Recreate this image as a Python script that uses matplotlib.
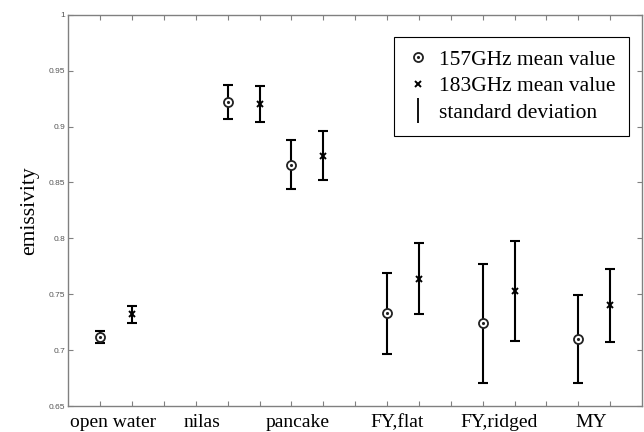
import matplotlib
matplotlib.use("Agg")
import matplotlib.pyplot as plt
from matplotlib.lines import Line2D

# categories and read-off values
categories = ["open water", "nilas", "pancake", "FY,flat", "FY,ridged", "MY"]
pos157 = [1, 5, 7, 10, 13, 16]
pos183 = [2, 6, 8, 11, 14, 17]
label_pos = [1.41, 4.2, 7.2, 10.3, 13.5, 16.4]

mean157 = [0.712, 0.922, 0.866, 0.733, 0.724, 0.710]
std157 = [0.0054, 0.015, 0.022, 0.036, 0.053, 0.039]
mean183 = [0.732, 0.920, 0.874, 0.764, 0.753, 0.740]
std183 = [0.0075, 0.016, 0.022, 0.032, 0.045, 0.033]

serif = ["Liberation Serif", "DejaVu Serif"]
sans = ["Liberation Sans", "DejaVu Sans"]
gray = "#808080"

fig = plt.figure(figsize=(6.44, 4.32), dpi=100)
ax = fig.add_axes([0.106, 0.060, 0.891, 0.906])

# error bars
ax.errorbar(pos157, mean157, yerr=std157, fmt="none", ecolor="black",
            elinewidth=1.5, capsize=3.6, capthick=1.5)
ax.errorbar(pos183, mean183, yerr=std183, fmt="none", ecolor="black",
            elinewidth=1.5, capsize=3.6, capthick=1.5)

# 157GHz: circle with dot
c1, = ax.plot(pos157, mean157, "o", mfc="white", mec="#222222", ms=6.5, mew=1.3, ls="none")
c2, = ax.plot(pos157, mean157, ".", color="#222222", ms=2.5, ls="none")
# 183GHz: cross
x1, = ax.plot(pos183, mean183, "x", color="black", ms=5, mew=1.4, ls="none")

ax.set_xlim(0, 18)
ax.set_ylim(0.65, 1.0)
ax.set_xticks(range(1, 18))
ax.set_xticklabels([])
yt = [0.65, 0.7, 0.75, 0.8, 0.85, 0.9, 0.95, 1.0]
ax.set_yticks(yt)
ax.set_yticklabels(["0.65", "0.7", "0.75", "0.8", "0.85", "0.9", "0.95", "1"],
                   family=sans, fontsize=6, color="#555555")
ax.tick_params(direction="in", length=3.5, width=0.8, color=gray,
               top=True, right=True, pad=2)
for s in ax.spines.values():
    s.set_color(gray)
    s.set_linewidth(1.0)

for p, c in zip(label_pos, categories):
    ax.text(p, -0.02, c, transform=ax.get_xaxis_transform(), ha="center", va="top",
            family=serif, fontsize=14)

ax.set_ylabel("emissivity", family=serif, fontsize=15.5, labelpad=7)

sd = Line2D([], [], marker="|", color="black", ms=18, mew=1.3, ls="none")
leg = ax.legend([(c1, c2), x1, sd],
                ["157GHz mean value", "183GHz mean value", "standard deviation"],
                loc="upper right", bbox_to_anchor=(0.977, 0.944), borderaxespad=0,
                prop={"family": serif, "size": 15.5}, fancybox=False,
                edgecolor="black", framealpha=1, handlelength=1.0,
                handletextpad=0.5, labelspacing=0.3, borderpad=0.6)
leg.get_frame().set_linewidth(0.8)

fig.savefig("out.png", dpi=100)
